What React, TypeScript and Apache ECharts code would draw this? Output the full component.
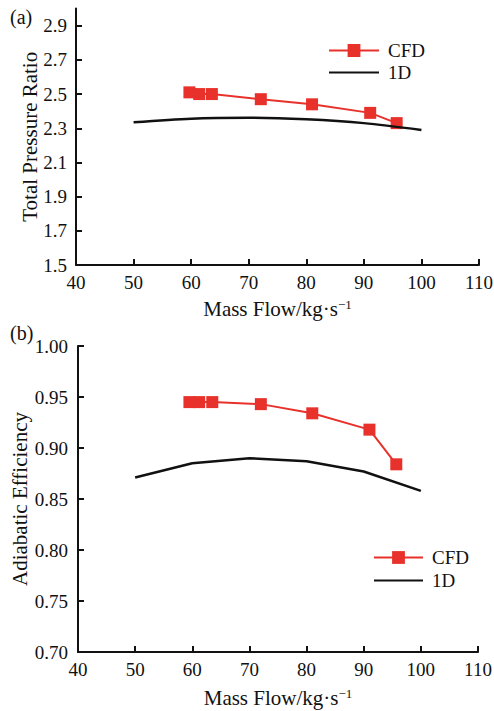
import React, { useEffect, useRef } from "react";
import * as echarts from "echarts";

const cfdFlowA = [59.7, 61.4, 63.6, 72.1, 81.0, 91.1, 95.7];
const cfdPressure = [2.51, 2.50, 2.50, 2.47, 2.44, 2.39, 2.33];
const oneDFlowA = [50, 60, 70, 80, 90, 100];
const oneDPressure = [2.335, 2.356, 2.361, 2.352, 2.33, 2.29];

const cfdFlowB = [59.5, 61.2, 63.5, 72.0, 81.0, 91.0, 95.7];
const cfdEfficiency = [0.945, 0.945, 0.945, 0.943, 0.934, 0.918, 0.884];
const oneDFlowB = [50, 60, 70, 80, 90, 100];
const oneDEfficiency = [0.871, 0.885, 0.890, 0.887, 0.877, 0.858];

const pressureTicks = [1.5, 1.7, 1.9, 2.1, 2.3, 2.5, 2.7, 2.9];

const FONT = "'Liberation Serif', 'Times New Roman', serif";
const RED = "#e8312b";
const BLACK = "#111";
const TICK_SIZE = 19;
const NAME_SIZE = 21;

const zip = (xs: number[], ys: number[]) => xs.map((x, i) => [x, ys[i]]);

export default function App() {
  const ref = useRef<HTMLDivElement>(null);
  useEffect(() => {
    if (!ref.current) return;
    const chart = echarts.init(ref.current, undefined, { renderer: "svg" });
    const axisCommon = {
      axisLine: { lineStyle: { color: BLACK, width: 2 } },
      axisTick: { inside: true, length: 6, lineStyle: { color: BLACK, width: 2 } },
      splitLine: { show: false },
      axisLabel: { color: BLACK, fontFamily: FONT, fontSize: TICK_SIZE },
      nameTextStyle: { color: BLACK, fontFamily: FONT, fontSize: NAME_SIZE },
      nameMoveOverlap: false,
    };
    const xName = "Mass Flow/kg·s{sup|−1}";
    const xNameStyle = {
      color: BLACK,
      fontFamily: FONT,
      fontSize: NAME_SIZE,
      rich: {
        sup: { fontFamily: FONT, fontSize: 13, color: BLACK, verticalAlign: "top", padding: [0, 0, 9, 0] },
      },
    };
    const legendData = [
      { name: "CFD" },
      { name: "1D", itemStyle: { color: "transparent", borderWidth: 0 } },
    ];
    const legendText = { color: BLACK, fontFamily: FONT, fontSize: TICK_SIZE, padding: [0, 0, 0, 4] };
    chart.setOption({
      animation: false,
      backgroundColor: "#fff",
      textStyle: { fontFamily: FONT },
      grid: [
        { left: 76, top: 8.6, width: 403, height: 256.4, outerBoundsMode: "none", containLabel: false },
        { left: 78, top: 346, width: 400, height: 306, outerBoundsMode: "none", containLabel: false },
      ],
      legend: [
        {
          data: legendData,
          orient: "vertical",
          left: 328,
          top: 41,
          padding: 0,
          itemWidth: 50,
          itemHeight: 16,
          itemGap: 3,
          textStyle: legendText,
        },
        {
          data: legendData,
          orient: "vertical",
          left: 373,
          top: 548,
          padding: 0,
          itemWidth: 49,
          itemHeight: 16,
          itemGap: 4,
          textStyle: legendText,
        },
      ],
      xAxis: [
        {
          ...axisCommon,
          gridIndex: 0,
          type: "value",
          min: 40,
          max: 110,
          interval: 10,
          axisLabel: { ...axisCommon.axisLabel, margin: 8 },
          name: xName,
          nameLocation: "middle",
          nameGap: 33,
          nameTextStyle: xNameStyle,
        },
        {
          ...axisCommon,
          gridIndex: 1,
          type: "value",
          min: 40,
          max: 110,
          interval: 10,
          axisLabel: { ...axisCommon.axisLabel, margin: 8 },
          name: xName,
          nameLocation: "middle",
          nameGap: 35,
          nameTextStyle: xNameStyle,
        },
      ],
      yAxis: [
        {
          ...axisCommon,
          gridIndex: 0,
          type: "value",
          min: 1.5,
          max: 3.0,
          axisTick: { ...axisCommon.axisTick, customValues: pressureTicks },
          axisLabel: {
            ...axisCommon.axisLabel,
            margin: 9,
            customValues: pressureTicks,
            formatter: (v: number) => v.toFixed(1),
          },
          name: "Total Pressure Ratio",
          nameLocation: "middle",
          nameGap: 36,
        },
        {
          ...axisCommon,
          gridIndex: 1,
          type: "value",
          min: 0.7,
          max: 1.0,
          interval: 0.05,
          axisLabel: {
            ...axisCommon.axisLabel,
            margin: 10,
            formatter: (v: number) => v.toFixed(2),
          },
          name: "Adiabatic Efficiency",
          nameLocation: "middle",
          nameGap: 48,
        },
      ],
      graphic: [
        { type: "text", left: 10, top: 7, style: { text: "(a)", font: `20px ${FONT}`, fill: BLACK } },
        { type: "text", left: 10, top: 323, style: { text: "(b)", font: `20px ${FONT}`, fill: BLACK } },
      ],
      series: [
        {
          name: "CFD",
          type: "line",
          xAxisIndex: 0,
          yAxisIndex: 0,
          data: zip(cfdFlowA, cfdPressure),
          symbol: "rect",
          symbolSize: 12,
          itemStyle: { color: RED },
          lineStyle: { color: RED, width: 2 },
          z: 3,
        },
        {
          name: "1D",
          type: "line",
          xAxisIndex: 0,
          yAxisIndex: 0,
          data: zip(oneDFlowA, oneDPressure),
          symbol: "none",
          smooth: 0.3,
          itemStyle: { color: BLACK },
          lineStyle: { color: BLACK, width: 2.5 },
          z: 4,
        },
        {
          name: "CFD",
          type: "line",
          xAxisIndex: 1,
          yAxisIndex: 1,
          data: zip(cfdFlowB, cfdEfficiency),
          symbol: "rect",
          symbolSize: 12,
          itemStyle: { color: RED },
          lineStyle: { color: RED, width: 2 },
          z: 3,
        },
        {
          name: "1D",
          type: "line",
          xAxisIndex: 1,
          yAxisIndex: 1,
          data: zip(oneDFlowB, oneDEfficiency),
          symbol: "none",
          itemStyle: { color: BLACK },
          lineStyle: { color: BLACK, width: 2.5 },
          z: 4,
        },
      ],
    });
    return () => chart.dispose();
  }, []);
  return (
    <div
      ref={ref}
      style={{ position: "fixed", left: 0, top: 0, width: 494, height: 711, background: "#fff" }}
    />
  );
}
